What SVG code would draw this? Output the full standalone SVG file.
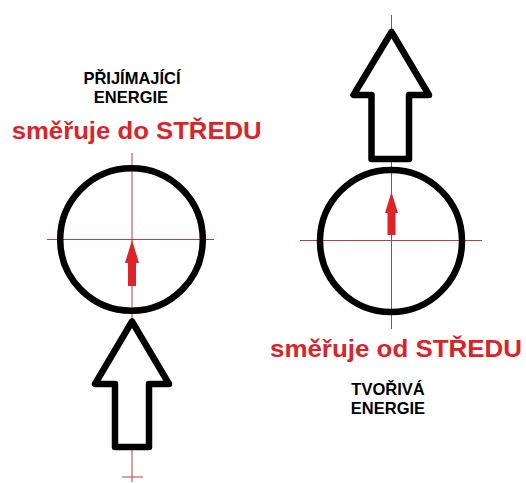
<svg xmlns="http://www.w3.org/2000/svg" width="526" height="483" viewBox="0 0 526 483">
<style>
.bg{fill:#ffffff}
.ring{fill:none;stroke:#000;stroke-width:6.5}
.big{fill:#fff;stroke:#000;stroke-width:6.5;stroke-linejoin:round}
.axis{stroke:#b5403f;stroke-width:1;fill:none}
.red{fill:#de2329}
.lbl{font-family:"Liberation Sans",Arial,sans-serif;font-weight:bold;font-size:16.5px;fill:#000;text-anchor:middle}
.rtx{font-family:"Liberation Sans",Arial,sans-serif;font-weight:bold;font-size:23px;fill:#d8242b}
</style>
<rect class="bg" x="0" y="0" width="526" height="483"/>
<g id="connectors">
<path class="axis" d="M132 153V482M122 477H143M47 239.5H214"/>
<path class="axis" d="M391.5 15V329M300 240.5H482"/>
</g>
<g id="left-circle">
<circle class="ring" cx="131.5" cy="239.5" r="71.3"/>
<polygon class="red" points="132,240 139,263 136,263 136,286 128,286 128,263 125,263"/>
</g>
<g id="left-arrow">
<polygon class="big" points="132,321.5 95,384 115,384 115,447 149,447 149,384 169,384"/>
</g>
<g id="left-labels">
<text class="lbl" x="132" y="84">PŘIJÍMAJÍCÍ</text>
<text class="lbl" x="131" y="103">ENERGIE</text>
<text class="rtx" x="11.7" y="139" textLength="250" lengthAdjust="spacingAndGlyphs">směřuje do STŘEDU</text>
</g>
<g id="right-circle">
<circle class="ring" cx="391" cy="241" r="71"/>
<polygon class="red" points="391.5,192 398,213 395.5,213 395.5,235 387.5,235 387.5,213 385,213"/>
</g>
<g id="right-arrow">
<polygon class="big" points="391.5,32 353.5,95 371.5,95 371.5,159 409,159 409,95 429,95"/>
</g>
<g id="right-labels">
<text class="rtx" x="270" y="356.5" textLength="252" lengthAdjust="spacingAndGlyphs">směřuje od STŘEDU</text>
<text class="lbl" x="388" y="395">TVOŘIVÁ</text>
<text class="lbl" x="388" y="413.5">ENERGIE</text>
</g>
</svg>
